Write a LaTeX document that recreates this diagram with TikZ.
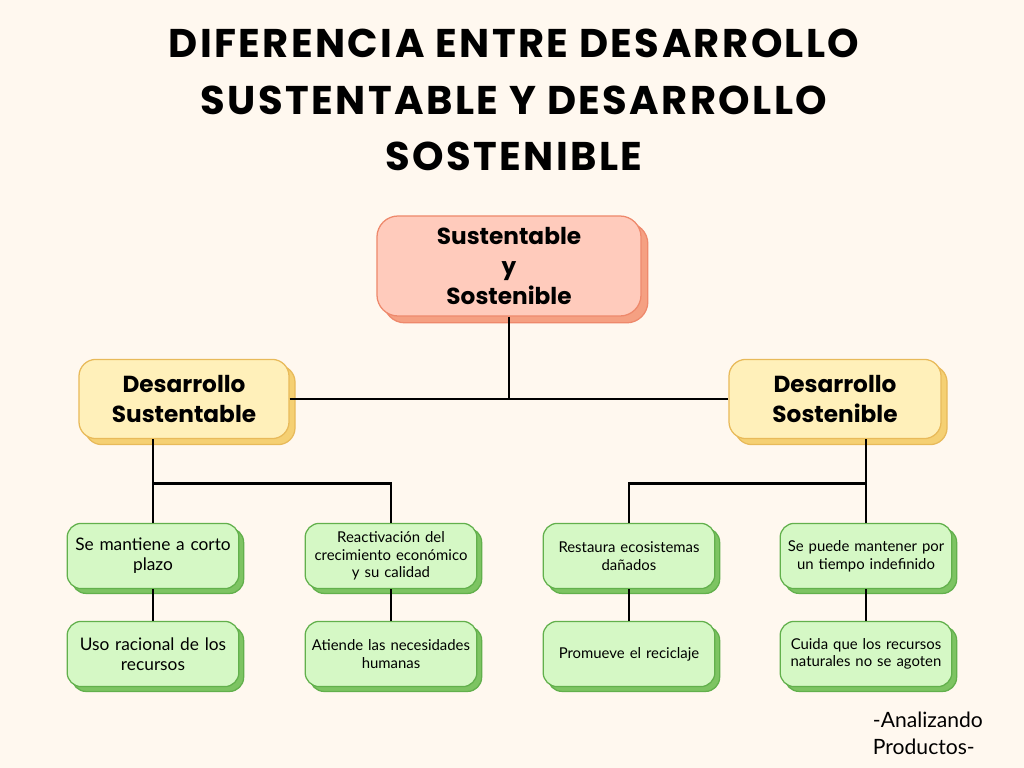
\documentclass[tikz,border=0pt]{standalone}
\usepackage{fontspec}
\setmainfont{Poppins}
\newfontfamily\bodyfont{Lato}
\newfontfamily\titlefont[LetterSpace=6]{Poppins}
\usetikzlibrary{shadows, positioning, calc}

\definecolor{bgcol}{RGB}{255,248,239}
\definecolor{redfill}{RGB}{255,203,188}
\definecolor{reddraw}{RGB}{238,137,108}
\definecolor{redshadow}{RGB}{245,160,130}
\definecolor{yelfill}{RGB}{255,240,186}
\definecolor{yeldraw}{RGB}{232,186,90}
\definecolor{yelshadow}{RGB}{245,208,115}
\definecolor{grnfill}{RGB}{213,248,197}
\definecolor{grndraw}{RGB}{98,176,76}
\definecolor{grnshadow}{RGB}{125,196,98}

\begin{document}
\begin{tikzpicture}[
    x=0.025cm, y=-0.025cm,
    box/.style = {
        rectangle,
        align=center,
        inner sep=2pt,
        line width=0.9pt
    },
    rootbox/.style = {box, rounded corners=15pt, fill=redfill, draw=reddraw,
        minimum width=6.6cm, minimum height=2.5cm,
        font=\fontsize{16.5}{21.5}\selectfont\bfseries,
        copy shadow={shadow xshift=0.17cm, shadow yshift=-0.17cm, fill=redshadow, draw=reddraw}},
    headbox/.style = {box, rounded corners=12pt, fill=yelfill, draw=yeldraw,
        minimum height=1.98cm,
        font=\fontsize{16.5}{22}\selectfont\bfseries,
        copy shadow={shadow xshift=0.15cm, shadow yshift=-0.15cm, fill=yelshadow, draw=yeldraw}},
    leafbox/.style = {box, rounded corners=10pt, fill=grnfill, draw=grndraw,
        minimum width=4.25cm, minimum height=1.63cm, text width=4.15cm,
        font=\bodyfont\fontsize{10.6}{12.5}\selectfont,
        copy shadow={shadow xshift=0.12cm, shadow yshift=-0.12cm, fill=grnshadow, draw=grndraw}},
    bigleaf/.style = {leafbox, font=\bodyfont\fontsize{12.3}{14.2}\selectfont},
    conn/.style = {line width=2pt, black}
]

    % background
    \fill[bgcol] (0,0) rectangle (1024,768);

    % === TITLE ===
    \node[font=\titlefont\fontsize{28.5}{40}\selectfont\bfseries, align=center] (title) at (514,100)
        {DIFERENCIA ENTRE DESARROLLO\\SUSTENTABLE Y DESARROLLO\\SOSTENIBLE};

    % === ROOT ===
    \node[rootbox] (root) at (509,266) {Sustentable\\y\\Sostenible};

    % === HEADS ===
    \node[headbox, minimum width=5.25cm] (sust) at (184,399) {Desarrollo\\Sustentable};
    \node[headbox, minimum width=5.3cm] (sost) at (835,399) {Desarrollo\\Sostenible};

    % === LEAVES ===
    \node[bigleaf] (s1) at (153,556) {Se mantiene a corto\\plazo};
    \node[bigleaf] (s2) at (153,654) {Uso racional de los\\recursos};
    \node[leafbox] (s3) at (391,556) {Reactivación del\\crecimiento económico\\y su calidad};
    \node[leafbox] (s4) at (391,654) {Atiende las necesidades\\humanas};

    \node[leafbox] (o1) at (629,556) {Restaura ecosistemas\\dañados};
    \node[leafbox] (o2) at (629,654) {Promueve el reciclaje};
    \node[leafbox] (o3) at (866,556) {Se puede mantener por\\un tiempo indefinido};
    \node[leafbox] (o4) at (866,654) {Cuida que los recursos\\naturales no se agoten};

    % === CONNECTORS ===
    \draw[conn] (root.south) -- (root.south |- sust.east);
    \draw[conn] (sust.east) -- (sost.west);

    \draw[conn] (sust.south -| s1.north) -- (s1.north);
    \draw[conn] (s3.north) |- ($(s1.north)+(0,-39)$);
    \draw[conn] (s1) -- (s2);
    \draw[conn] (s3) -- (s4);

    \draw[conn] (sost.south -| o3.north) -- (o3.north);
    \draw[conn] (o1.north) |- ($(o3.north)+(0,-39)$);
    \draw[conn] (o1) -- (o2);
    \draw[conn] (o3) -- (o4);

    % signature
    \node[font=\bodyfont\fontsize{15}{19.5}\selectfont, align=left, anchor=north west] (sig) at (868,707)
        {-Analizando\\Productos-};

\end{tikzpicture}
\end{document}
